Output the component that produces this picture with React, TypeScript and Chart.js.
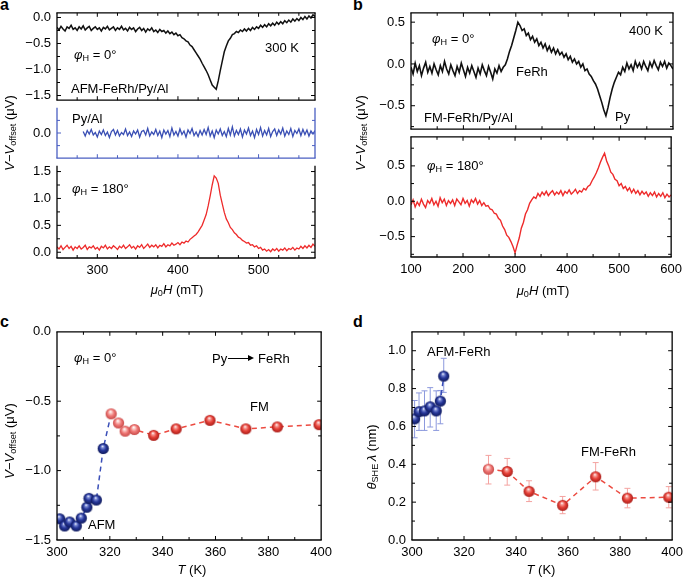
import React, { useEffect, useRef } from 'react';
import { Chart, registerables } from 'chart.js';

Chart.register(...registerables);

const FONT = "'Liberation Sans', Arial, Helvetica, sans-serif";

// ---------------- data ----------------
// panel a: field sweep 250..570 mT, step 2.5 mT
const A_H0 = 250;
const A_DH = 2.5;
const aAfmV = [
  -0.19, -0.24, -0.17, -0.22, -0.26, -0.18, -0.21, -0.15, -0.23, -0.2,
  -0.25, -0.18, -0.22, -0.16, -0.24, -0.2, -0.17, -0.25, -0.21, -0.18,
  -0.23, -0.2, -0.26, -0.19, -0.22, -0.17, -0.24, -0.21, -0.18, -0.25,
  -0.2, -0.23, -0.17, -0.24, -0.21, -0.26, -0.19, -0.23, -0.2, -0.27,
  -0.22, -0.19, -0.25, -0.21, -0.28, -0.22, -0.25, -0.2, -0.27, -0.24,
  -0.29, -0.23, -0.27, -0.25, -0.3, -0.26, -0.31, -0.28, -0.33, -0.3,
  -0.35, -0.33, -0.39, -0.41, -0.45, -0.47, -0.53, -0.56, -0.62, -0.68,
  -0.74, -0.8, -0.88, -0.95, -1.02, -1.1, -1.2, -1.3, -1.34, -1.38,
  -1.22, -1.02, -0.84, -0.66, -0.55, -0.45, -0.4, -0.33, -0.31, -0.27,
  -0.29, -0.24, -0.27, -0.22, -0.26, -0.21, -0.25, -0.19, -0.23, -0.18,
  -0.21, -0.15, -0.19, -0.14, -0.18, -0.12, -0.16, -0.11, -0.15, -0.09,
  -0.13, -0.08, -0.12, -0.06, -0.1, -0.05, -0.09, -0.03, -0.07, -0.02,
  -0.06, 0.0, -0.04, 0.02, -0.03, 0.03, -0.01, 0.05, 0.02,
];
const A_PY_H0 = 282.5;
const aPyV = [
  0.03, -0.06, 0.05, -0.02, 0.07, -0.04, 0.01, -0.08, 0.04, -0.03,
  0.06, -0.05, 0.02, -0.09, 0.03, 0.07, -0.04, 0.05, -0.06, 0.01,
  -0.03, 0.08, -0.05, 0.02, -0.07, 0.04, -0.02, 0.06, -0.08, 0.03,
  0.05, -0.04, 0.09, -0.06, 0.02, -0.03, 0.07, -0.05, 0.04, -0.09,
  0.06, -0.02, 0.05, -0.07, 0.1, -0.04, 0.03, -0.06, 0.08, -0.03,
  0.04, -0.08, 0.06, -0.01, 0.09, -0.05, 0.02, -0.07, 0.05, -0.04,
  0.07, -0.03, 0.11, -0.06, 0.04, -0.09, 0.06, -0.02, 0.08, -0.05,
  0.03, -0.07, 0.09, -0.04, 0.12, -0.06, 0.05, -0.03, 0.08, -0.08,
  0.06, -0.02, 0.1, -0.05, 0.04, -0.09, 0.07, -0.03, 0.11, -0.06,
  0.05, -0.04, 0.09, -0.07, 0.03, 0.08, -0.05, 0.06, -0.02, 0.1,
  -0.06, 0.04, -0.03, 0.09, -0.07, 0.05, -0.01, 0.08, -0.05, 0.07,
  -0.03, 0.06, -0.06, 0.04, -0.02, 0.05,
];
const aRedV = [
  0.1, 0.06, 0.12, 0.05, 0.09, 0.13, 0.07, 0.11, 0.04, 0.1,
  0.07, 0.12, 0.06, 0.09, 0.13, 0.05, 0.1, 0.08, 0.12, 0.06,
  0.09, 0.04, 0.11, 0.08, 0.13, 0.06, 0.1, 0.07, 0.12, 0.09,
  0.05, 0.11, 0.08, 0.13, 0.07, 0.1, 0.14, 0.08, 0.11, 0.06,
  0.12, 0.09, 0.14, 0.07, 0.11, 0.15, 0.09, 0.13, 0.1, 0.14,
  0.08, 0.13, 0.11, 0.16, 0.1, 0.14, 0.12, 0.17, 0.13, 0.15,
  0.18, 0.14, 0.19, 0.17, 0.21, 0.19, 0.24, 0.27, 0.3, 0.33,
  0.38, 0.44, 0.5, 0.6, 0.7, 0.86, 1.05, 1.25, 1.42, 1.38,
  1.28, 1.06, 0.9, 0.74, 0.62, 0.55, 0.46, 0.42, 0.36, 0.33,
  0.28, 0.26, 0.22, 0.2, 0.17, 0.18, 0.13, 0.14, 0.1, 0.12,
  0.07, 0.09, 0.04, 0.06, 0.02, 0.05, 0.01, 0.06, 0.03, 0.07,
  0.02, 0.06, 0.04, 0.08, 0.03, 0.07, 0.05, 0.09, 0.04, 0.08,
  0.06, 0.11, 0.07, 0.12, 0.08, 0.13, 0.09, 0.15, 0.11,
];

// panel b: field sweep 100..600 mT, step 4 mT
const B_H0 = 100;
const B_DH = 4;
const bTopV = [
  -0.04, -0.12, 0.01, -0.09, -0.02, -0.14, -0.05, 0.02, -0.1, -0.03,
  -0.11, 0.0, -0.07, -0.13, -0.02, -0.09, 0.03, -0.06, -0.12, -0.01,
  -0.08, -0.14, -0.03, -0.1, 0.01, -0.07, -0.15, -0.04, -0.11, -0.02,
  -0.09, -0.16, -0.05, -0.12, -0.01, -0.08, -0.14, -0.03, -0.1, -0.18,
  -0.06, -0.11, -0.02, -0.09, -0.04, -0.01, 0.06, 0.15, 0.22, 0.31,
  0.4, 0.5, 0.46, 0.4, 0.42, 0.34, 0.37, 0.29, 0.33, 0.26,
  0.3, 0.22, 0.26, 0.19, 0.24, 0.16, 0.21, 0.14, 0.19, 0.12,
  0.17, 0.11, 0.14, 0.08, 0.12, 0.05, 0.09, 0.02, 0.06, 0.0,
  0.03, -0.04, 0.0, -0.08, -0.06, -0.12, -0.15, -0.2, -0.24, -0.3,
  -0.38, -0.46, -0.55, -0.62, -0.52, -0.4, -0.3, -0.22, -0.16, -0.1,
  -0.13, -0.04, -0.09, 0.01, -0.06, -0.01, -0.08, 0.03, -0.04, 0.01,
  -0.06, 0.03, -0.03, -0.08, 0.02, -0.04, 0.04, -0.02, -0.07, 0.02,
  -0.03, 0.03, -0.05, 0.01, -0.02, -0.06,
];
const bBotV = [
  -0.05, 0.02, -0.08, -0.01, -0.06, 0.03, -0.04, -0.09, 0.01, -0.03,
  0.04, -0.05, 0.0, -0.07, 0.05, -0.02, 0.03, -0.06, 0.01, -0.03,
  0.02, -0.06, 0.03, -0.01, -0.05, 0.04, -0.03, 0.01, -0.07, 0.02,
  -0.02, 0.04, -0.04, 0.01, -0.06, -0.02, -0.07, -0.06, -0.11, -0.12,
  -0.17, -0.18, -0.24, -0.27, -0.35, -0.4, -0.48, -0.51, -0.57, -0.64,
  -0.73, -0.62, -0.52, -0.38, -0.3, -0.18, -0.12, -0.03, 0.02, 0.06,
  0.04, 0.11, 0.07, 0.13, 0.09, 0.14, 0.08, 0.12, 0.15, 0.09,
  0.13, 0.1, 0.15, 0.08, 0.14, 0.11, 0.16, 0.1, 0.13, 0.17,
  0.11, 0.15, 0.13, 0.18, 0.16, 0.21, 0.23, 0.29, 0.34, 0.4,
  0.47, 0.55, 0.62, 0.68, 0.57, 0.5, 0.41, 0.38, 0.31, 0.29,
  0.22, 0.25, 0.18, 0.21, 0.15, 0.19, 0.12, 0.17, 0.11, 0.15,
  0.09, 0.14, 0.1, 0.13, 0.07, 0.12, 0.08, 0.13, 0.06, 0.11,
  0.07, 0.12, 0.05, 0.1, 0.06, 0.09,
];

// panel c: V - Voffset vs T
const cBlueT = [301.0, 302.9, 304.8, 307.3, 309.2, 311.3, 312.1, 314.9, 317.5];
const cBlueV = [-1.347, -1.399, -1.37, -1.399, -1.342, -1.264, -1.2, -1.212, -0.841];
const cRedT = [320.5, 323.3, 325.8, 329.3, 336.6, 345.1, 357.9, 371.5, 383.4, 399.2];
const cRedV = [-0.591, -0.657, -0.716, -0.704, -0.746, -0.699, -0.638, -0.699, -0.685, -0.669];
const cRedLight = [true, true, true, true, false, false, false, false, false, false];

// panel d: theta_SHE * lambda vs T
const dBlueT = [301.0, 302.7, 304.8, 307.0, 309.3, 310.9, 312.2];
const dBlueY = [0.64, 0.678, 0.682, 0.704, 0.682, 0.734, 0.866];
const dBlueLo = [0.54, 0.579, 0.579, 0.597, 0.579, 0.614, 0.78];
const dBlueHi = [0.737, 0.777, 0.788, 0.805, 0.788, 0.79, 0.96];
const dRedT = [329.4, 336.6, 345.0, 357.9, 370.6, 382.8, 398.7];
const dRedY = [0.374, 0.362, 0.257, 0.183, 0.334, 0.221, 0.226];
const dRedLo = [0.296, 0.29, 0.203, 0.139, 0.264, 0.17, 0.17];
const dRedHi = [0.447, 0.431, 0.313, 0.23, 0.409, 0.273, 0.282];
const dRedLight = [true, false, false, false, false, false, false];

// ---------------- styling / layout ----------------
const YW = 44;
const PT = 10;
const PR = 14;
const PB = 10;
const XH = 24;

const BLACK = '#111111';
const TRACE_BLUE = '#3a4fb4';
const FRAME_BLUE = '#4a5fc2';
const TRACE_RED = '#ee2b2b';

type Edge = { line: string | null; ticks: boolean; color?: string };
type Edges = { top: Edge; bottom: Edge; left: Edge; right: Edge };

const allBlack: Edges = {
  top: { line: '#000', ticks: true },
  bottom: { line: '#000', ticks: true },
  left: { line: '#000', ticks: true },
  right: { line: '#000', ticks: true },
};

function makeFramePlugin(edges: Edges) {
  return {
    id: 'frame',
    afterDatasetsDraw(chart: any) {
      const { ctx, chartArea: ca } = chart;
      const xs = chart.scales.x;
      const ys = chart.scales.y;
      ctx.save();
      const seg = (x1: number, y1: number, x2: number, y2: number, c: string) => {
        ctx.strokeStyle = c;
        ctx.beginPath();
        ctx.moveTo(x1, y1);
        ctx.lineTo(x2, y2);
        ctx.stroke();
      };
      const len = (t: any) => (t.label !== '' && t.label != null ? 4 : 3);
      ctx.lineWidth = 1;
      for (const t of xs.ticks) {
        const px = xs.getPixelForValue(t.value);
        if (px < ca.left + 1.5 || px > ca.right - 1.5) continue;
        const L = len(t);
        if (edges.bottom.ticks) seg(px, ca.bottom, px, ca.bottom - L, edges.bottom.color || '#000');
        if (edges.top.ticks) seg(px, ca.top, px, ca.top + L, edges.top.color || '#000');
      }
      for (const t of ys.ticks) {
        const py = ys.getPixelForValue(t.value);
        if (py < ca.top + 1.5 || py > ca.bottom - 1.5) continue;
        const L = len(t);
        if (edges.left.ticks) seg(ca.left, py, ca.left + L, py, edges.left.color || '#000');
        if (edges.right.ticks) seg(ca.right, py, ca.right - L, py, edges.right.color || '#000');
      }
      ctx.lineWidth = 1.3;
      if (edges.top.line) seg(ca.left - 0.6, ca.top, ca.right + 0.6, ca.top, edges.top.line);
      if (edges.bottom.line) seg(ca.left - 0.6, ca.bottom, ca.right + 0.6, ca.bottom, edges.bottom.line);
      if (edges.left.line) seg(ca.left, ca.top, ca.left, ca.bottom, edges.left.line);
      if (edges.right.line) seg(ca.right, ca.top, ca.right, ca.bottom, edges.right.line);
      ctx.restore();
    },
  };
}

type ErrSet = { x: number[]; lo: number[]; hi: number[]; color: string };
function makeErrPlugin(sets: ErrSet[]) {
  return {
    id: 'errbars',
    beforeDatasetsDraw(chart: any) {
      const { ctx } = chart;
      const xs = chart.scales.x;
      const ys = chart.scales.y;
      ctx.save();
      ctx.lineWidth = 1;
      for (const s of sets) {
        ctx.strokeStyle = s.color;
        s.x.forEach((xv, i) => {
          const px = xs.getPixelForValue(xv);
          const y1 = ys.getPixelForValue(s.lo[i]);
          const y2 = ys.getPixelForValue(s.hi[i]);
          ctx.beginPath();
          ctx.moveTo(px, y1);
          ctx.lineTo(px, y2);
          ctx.moveTo(px - 3, y1);
          ctx.lineTo(px + 3, y1);
          ctx.moveTo(px - 3, y2);
          ctx.lineTo(px + 3, y2);
          ctx.stroke();
        });
      }
      ctx.restore();
    },
  };
}

function fmt(v: number, dec: number) {
  const vv = Math.abs(v) < 1e-9 ? 0 : v;
  return vv.toFixed(dec).replace('-', '\u2212');
}
function labEvery(step: number, dec: number) {
  return (v: number) => (Math.abs(v / step - Math.round(v / step)) < 1e-6 ? fmt(v, dec) : '');
}

function axis(min: number, max: number, step: number, label: (v: number) => string, display: boolean, isX: boolean) {
  const a: any = {
    type: 'linear',
    min,
    max,
    display,
    grid: { display: false, drawTicks: false },
    border: { display: false },
    ticks: {
      stepSize: step,
      includeBounds: false,
      autoSkip: false,
      maxRotation: 0,
      minRotation: 0,
      padding: isX ? 5 : 6,
      color: '#000',
      font: { family: FONT, size: 13 },
      callback: (v: any) => label(Number(v)),
    },
  };
  if (display) {
    a.afterFit = (s: any) => {
      if (isX) s.height = XH;
      else s.width = YW;
    };
  }
  return a;
}

function trace(h0: number, dh: number, vals: number[], color: string, width: number) {
  return {
    data: vals.map((v, i) => ({ x: h0 + i * dh, y: v })),
    borderColor: color,
    borderWidth: width,
    borderJoinStyle: 'miter',
    pointRadius: 0,
    tension: 0,
    fill: false,
  };
}

function sphere(base: string, dark: string, light: string) {
  const c = document.createElement('canvas');
  c.width = 13;
  c.height = 13;
  const g = c.getContext('2d')!;
  const r = 5.6;
  const cx = 6.5;
  const cy = 6.5;
  const grad = g.createRadialGradient(cx - 0.8, cy - 2.4, 0.2, cx, cy, r);
  grad.addColorStop(0, '#ffffff');
  grad.addColorStop(0.2, light);
  grad.addColorStop(0.55, base);
  grad.addColorStop(1, dark);
  g.fillStyle = grad;
  g.beginPath();
  g.arc(cx, cy, r, 0, Math.PI * 2);
  g.fill();
  return c;
}

type Rect = { left: number; top: number; w: number; h: number };
type Spec = { id: string; rect: Rect; showX: boolean; make: () => any };

function baseConfig(datasets: any[], x: any, y: any, showX: boolean, plugins: any[]) {
  return {
    type: 'line',
    data: { datasets },
    options: {
      animation: false,
      responsive: false,
      maintainAspectRatio: false,
      events: [],
      layout: { padding: { left: 0, top: PT, right: PR, bottom: showX ? 0 : PB } },
      plugins: { legend: { display: false }, tooltip: { enabled: false } },
      scales: { x, y },
    },
    plugins,
  };
}

const aX = (display: boolean) => axis(250, 570, 25, labEvery(100, 0), display, true);
const bX = (display: boolean) => axis(100, 600, 50, labEvery(100, 0), display, true);
const tX = () => axis(300, 400, 10, labEvery(20, 0), true, true);

const specs: Spec[] = [
  {
    id: 'aTop',
    rect: { left: 57, top: 9, w: 258, h: 95 },
    showX: false,
    make: () =>
      baseConfig(
        [trace(A_H0, A_DH, aAfmV, BLACK, 1.5)],
        aX(false),
        axis(-1.59, 0.09, 0.25, labEvery(0.5, 1), true, false),
        false,
        [makeFramePlugin(allBlack)]
      ),
  },
  {
    id: 'aMid',
    rect: { left: 57, top: 104, w: 258, h: 58 },
    showX: false,
    make: () =>
      baseConfig(
        [trace(A_PY_H0, A_DH, aPyV, TRACE_BLUE, 1.3)],
        aX(false),
        axis(-0.5, 0.5, 0.25, (v) => (Math.abs(v) < 1e-9 ? '0.0' : ''), true, false),
        false,
        [
          makeFramePlugin({
            top: { line: null, ticks: false },
            bottom: { line: FRAME_BLUE, ticks: true, color: FRAME_BLUE },
            left: { line: FRAME_BLUE, ticks: true, color: FRAME_BLUE },
            right: { line: FRAME_BLUE, ticks: true, color: FRAME_BLUE },
          }),
        ]
      ),
  },
  {
    id: 'aBot',
    rect: { left: 57, top: 162, w: 258, h: 96 },
    showX: true,
    make: () =>
      baseConfig(
        [trace(A_H0, A_DH, aRedV, TRACE_RED, 1.3)],
        aX(true),
        axis(-0.107, 1.607, 0.25, labEvery(0.5, 1), true, false),
        true,
        [
          makeFramePlugin({
            top: { line: null, ticks: false },
            bottom: { line: '#000', ticks: true },
            left: { line: '#000', ticks: true },
            right: { line: '#000', ticks: true },
          }),
        ]
      ),
  },
  {
    id: 'bTop',
    rect: { left: 411, top: 9, w: 262, h: 124 },
    showX: false,
    make: () =>
      baseConfig(
        [trace(B_H0, B_DH, bTopV, BLACK, 1.6)],
        bX(false),
        axis(-0.781, 0.612, 0.25, labEvery(0.5, 1), true, false),
        false,
        [makeFramePlugin(allBlack)]
      ),
  },
  {
    id: 'bBot',
    rect: { left: 411, top: 133, w: 262, h: 124 },
    showX: true,
    make: () =>
      baseConfig(
        [trace(B_H0, B_DH, bBotV, TRACE_RED, 1.4)],
        bX(true),
        axis(-0.788, 0.911, 0.25, labEvery(0.5, 1), true, false),
        true,
        [makeFramePlugin(allBlack)]
      ),
  },
  {
    id: 'c',
    rect: { left: 57, top: 328, w: 266, h: 212 },
    showX: true,
    make: () => {
      const sb = sphere('#27379a', '#0f1a5c', '#7f8fd8');
      const sr = sphere('#e8433a', '#a81c18', '#f6a09a');
      const srl = sphere('#f07a78', '#c84a48', '#fbd0cc');
      const blue = {
        data: [...cBlueT.map((t, i) => ({ x: t, y: cBlueV[i] })), { x: cRedT[0], y: cRedV[0] }],
        borderColor: '#3a4fb8',
        borderWidth: 1.5,
        borderDash: [5, 4],
        pointStyle: sb,
        pointRadius: [...cBlueT.map(() => 5.5), 0],
        tension: 0,
        fill: false,
      };
      const red = {
        data: cRedT.map((t, i) => ({ x: t, y: cRedV[i] })),
        borderColor: '#ec4a40',
        borderWidth: 1.5,
        borderDash: [5, 4],
        pointStyle: cRedLight.map((l) => (l ? srl : sr)),
        pointRadius: 5.5,
        tension: 0,
        fill: false,
      };
      return baseConfig(
        [red, blue],
        tX(),
        axis(-1.5, 0, 0.25, labEvery(0.5, 1), true, false),
        true,
        [makeFramePlugin(allBlack)]
      );
    },
  },
  {
    id: 'd',
    rect: { left: 412, top: 328, w: 262, h: 212 },
    showX: true,
    make: () => {
      const sb = sphere('#27379a', '#0f1a5c', '#7f8fd8');
      const sr = sphere('#e8433a', '#a81c18', '#f6a09a');
      const srl = sphere('#f07a78', '#c84a48', '#fbd0cc');
      const blue = {
        data: dBlueT.map((t, i) => ({ x: t, y: dBlueY[i] })),
        borderColor: '#3a4fb8',
        borderWidth: 1.5,
        borderDash: [5, 4],
        pointStyle: sb,
        pointRadius: 5.5,
        tension: 0,
        fill: false,
      };
      const red = {
        data: dRedT.map((t, i) => ({ x: t, y: dRedY[i] })),
        borderColor: '#ec4a40',
        borderWidth: 1.5,
        borderDash: [5, 4],
        pointStyle: dRedLight.map((l) => (l ? srl : sr)),
        pointRadius: 5.5,
        tension: 0,
        fill: false,
      };
      return baseConfig(
        [red, blue],
        tX(),
        axis(0, 1.1, 0.1, labEvery(0.2, 1), true, false),
        true,
        [
          makeErrPlugin([
            { x: dBlueT, lo: dBlueLo, hi: dBlueHi, color: '#8c99dd' },
            { x: dRedT, lo: dRedLo, hi: dRedHi, color: '#f4a3a0' },
          ]),
          makeFramePlugin(allBlack),
        ]
      );
    },
  },
];

function ChartBox({ spec }: { spec: Spec }) {
  const ref = useRef<HTMLCanvasElement>(null);
  const r = spec.rect;
  const left = r.left - YW;
  const top = r.top - PT;
  const w = YW + r.w + PR;
  const h = PT + r.h + (spec.showX ? XH : PB);
  useEffect(() => {
    const chart = new Chart(ref.current as HTMLCanvasElement, spec.make());
    return () => chart.destroy();
  }, []);
  return (
    <canvas
      ref={ref}
      width={w}
      height={h}
      style={{ position: 'absolute', left, top, width: w, height: h }}
    />
  );
}

const subStyle: React.CSSProperties = { fontSize: '0.7em', verticalAlign: '-0.32em', lineHeight: 0 };

function T(p: { x: number; y: number; a?: 'l' | 'r' | 'c'; s?: number; b?: boolean; children: React.ReactNode }) {
  const tx = p.a === 'r' ? '-100%' : p.a === 'c' ? '-50%' : '0';
  return (
    <div
      style={{
        position: 'absolute',
        left: p.x,
        top: p.y,
        transform: `translate(${tx}, -50%)`,
        fontSize: p.s ?? 13,
        fontWeight: p.b ? 'bold' : 'normal',
        lineHeight: 1,
        whiteSpace: 'nowrap',
        color: '#000',
      }}
    >
      {p.children}
    </div>
  );
}

function VT(p: { x: number; y: number; children: React.ReactNode }) {
  return (
    <div
      style={{
        position: 'absolute',
        left: p.x,
        top: p.y,
        transform: 'translate(-50%, -50%) rotate(-90deg)',
        fontSize: 13,
        lineHeight: 1,
        whiteSpace: 'nowrap',
        color: '#000',
      }}
    >
      {p.children}
    </div>
  );
}

const Phi = ({ deg }: { deg: string }) => (
  <span>
    <i>φ</i>
    <sub style={subStyle}>H</sub> = {deg}°
  </span>
);
const VLabel = () => (
  <span>
    <i>V</i>−<i>V</i>
    <sub style={subStyle}>offset</sub> (μV)
  </span>
);
const HLabel = () => (
  <span>
    <i>μ</i>
    <sub style={subStyle}>0</sub>
    <i>H</i> (mT)
  </span>
);
const TLabel = () => (
  <span>
    <i>T</i> (K)
  </span>
);

export default function App() {
  return (
    <div
      style={{
        position: 'absolute',
        left: 0,
        top: 0,
        width: 685,
        height: 579,
        overflow: 'hidden',
        background: '#fff',
        fontFamily: FONT,
      }}
    >
      {specs.map((s) => (
        <ChartBox key={s.id} spec={s} />
      ))}

      {/* panel letters */}
      <T x={0} y={5} s={16} b>a</T>
      <T x={353} y={5} s={16} b>b</T>
      <T x={0} y={322} s={16} b>c</T>
      <T x={353} y={322} s={16} b>d</T>

      {/* axis titles */}
      <VT x={9} y={133}><VLabel /></VT>
      <VT x={360} y={133}><VLabel /></VT>
      <VT x={9} y={441}><VLabel /></VT>
      <VT x={371} y={457}>
        <span>
          <i>θ</i>
          <sub style={subStyle}>SHE</sub>
          {'\u2009'}
          <i>λ</i> (nm)
        </span>
      </VT>
      <T x={177} y={289} a="c"><HLabel /></T>
      <T x={543} y={290} a="c"><HLabel /></T>
      <T x={192} y={569} a="c"><TLabel /></T>
      <T x={541} y={569} a="c"><TLabel /></T>

      {/* panel a annotations */}
      <T x={74} y={54}><Phi deg="0" /></T>
      <T x={299} y={47} a="r">300 K</T>
      <T x={71} y={88}>AFM-FeRh/Py/Al</T>
      <T x={72} y={118}>Py/Al</T>
      <T x={72} y={188}><Phi deg="180" /></T>

      {/* panel b annotations */}
      <T x={432} y={38}><Phi deg="0" /></T>
      <T x={663} y={30} a="r">400 K</T>
      <T x={516} y={71}>FeRh</T>
      <T x={424} y={117}>FM-FeRh/Py/Al</T>
      <T x={615} y={116}>Py</T>
      <T x={427} y={165}><Phi deg="180" /></T>

      {/* panel c annotations */}
      <T x={74} y={357}><Phi deg="0" /></T>
      <T x={212} y={358}>Py</T>
      <div style={{ position: 'absolute', left: 228, top: 357.5, width: 22, height: 1.2, background: '#000' }} />
      <div
        style={{
          position: 'absolute',
          left: 248,
          top: 355,
          width: 0,
          height: 0,
          borderLeft: '6px solid #000',
          borderTop: '3px solid transparent',
          borderBottom: '3px solid transparent',
        }}
      />
      <T x={258} y={358}>FeRh</T>
      <T x={250} y={406}>FM</T>
      <T x={88} y={524}>AFM</T>

      {/* panel d annotations */}
      <T x={427} y={351}>AFM-FeRh</T>
      <T x={581} y={451}>FM-FeRh</T>
    </div>
  );
}
